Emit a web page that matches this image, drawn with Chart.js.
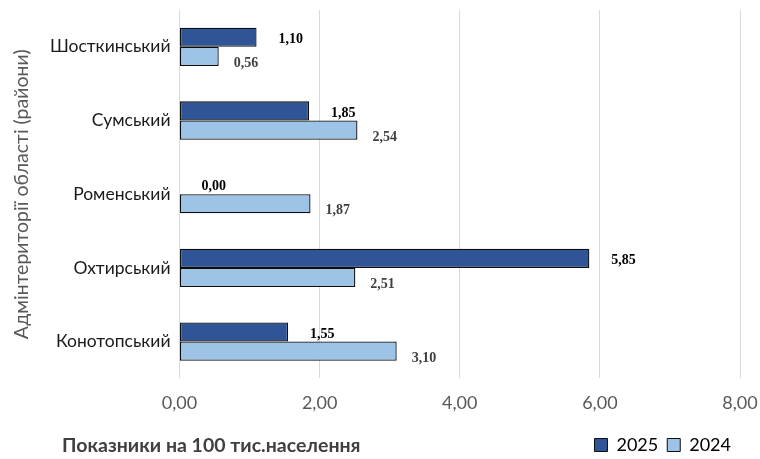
<!DOCTYPE html>
<html>
<head>
<meta charset="utf-8">
<script src="https://cdn.jsdelivr.net/npm/chart.js@4"></script>
<style>
html,body{margin:0;padding:0;background:#fff;}
#wrap{width:760px;height:459px;position:relative;}
</style>
</head>
<body>
<div id="wrap"><canvas id="c" width="760" height="459"></canvas></div>
<script>
const categories = ['Шосткинський', 'Сумський', 'Роменський', 'Охтирський', 'Конотопський'];
const values2025 = [1.10, 1.85, 0.00, 5.85, 1.55];
const values2024 = [0.56, 2.54, 1.87, 2.51, 3.10];
const seriesNames = ['2025', '2024'];
const xTicks = [0, 2, 4, 6, 8];
const yAxisTitle = 'Адмінтериторії області (райони)';
const xAxisTitle = 'Показники на 100 тис.населення';

const fmt = v => v.toFixed(2).replace('.', ',');

const valueLabels = {
  id: 'valueLabels',
  afterDatasetsDraw(chart) {
    const ctx = chart.ctx;
    ctx.save();
    ctx.font = 'bold 14px "Liberation Serif"';
    ctx.textBaseline = 'middle';
    ctx.textAlign = 'left';
    chart.data.datasets.forEach((ds, di) => {
      const meta = chart.getDatasetMeta(di);
      meta.data.forEach((bar, i) => {
        const dx = di === 0 ? 22 : 15;
        const dy = di === 0 ? 2 : 7;
        ctx.fillStyle = di === 0 ? '#000000' : '#404040';
        ctx.fillText(fmt(ds.data[i]), bar.x + dx, bar.y + dy);
      });
    });
    ctx.restore();
  }
};

const bottomTitle = {
  id: 'bottomTitle',
  afterDraw(chart) {
    const ctx = chart.ctx;
    ctx.save();
    ctx.font = 'bold 19.5px Lato';
    ctx.fillStyle = '#404040';
    ctx.textBaseline = 'middle';
    ctx.textAlign = 'left';
    ctx.fillText(xAxisTitle, 62, 446);
    ctx.restore();
  }
};

new Chart(document.getElementById('c'), {
  type: 'bar',
  data: {
    labels: categories,
    datasets: [
      { label: seriesNames[0], data: values2025, backgroundColor: '#2F5597', borderColor: '#0d0d0d', borderWidth: 1.3, borderSkipped: false, categoryPercentage: 0.52, barPercentage: 1.0 },
      { label: seriesNames[1], data: values2024, backgroundColor: '#9DC3E6', borderColor: '#0d0d0d', borderWidth: 1.3, borderSkipped: false, categoryPercentage: 0.52, barPercentage: 1.0 }
    ]
  },
  options: {
    indexAxis: 'y',
    responsive: false,
    animation: false,
    layout: { padding: { top: 10, right: 20, left: 6, bottom: -5 } },
    plugins: {
      legend: {
        position: 'bottom',
        align: 'end',
        labels: {
          boxWidth: 13, boxHeight: 13, color: '#262626',
          font: { family: 'Lato', size: 18 },
          padding: 9,
          generateLabels(chart) {
            return chart.data.datasets.map((d, i) => ({
              text: d.label, fillStyle: d.backgroundColor, strokeStyle: '#0d0d0d', lineWidth: 1, datasetIndex: i, hidden: false
            }));
          }
        }
      },
      tooltip: { enabled: false }
    },
    scales: {
      x: {
        min: 0, max: 8,
        afterBuildTicks(scale) { scale.ticks = xTicks.map(v => ({ value: v })); },
        afterFit(scale) { scale.paddingLeft = 0; scale.paddingRight = 0; scale.height -= 1; },
        ticks: { callback: v => fmt(v), color: '#595959', font: { family: 'Lato', size: 18 }, padding: 14 },
        grid: { color: '#d9d9d9', lineWidth: 1, drawTicks: false },
        border: { display: false }
      },
      y: {
        afterFit(scale) { scale.width = 173.5; scale.paddingTop = 0; scale.paddingBottom = 0; },
        ticks: { color: '#1a1a1a', font: { family: 'Lato', size: 17.5 }, padding: 9 },
        grid: { display: false, drawTicks: false },
        border: { display: false },
        title: { display: true, text: yAxisTitle, color: '#595959', font: { family: 'Lato', size: 19.5 }, padding: { top: 4, bottom: 4 } }
      }
    }
  },
  plugins: [valueLabels, bottomTitle]
});
</script>
</body>
</html>
